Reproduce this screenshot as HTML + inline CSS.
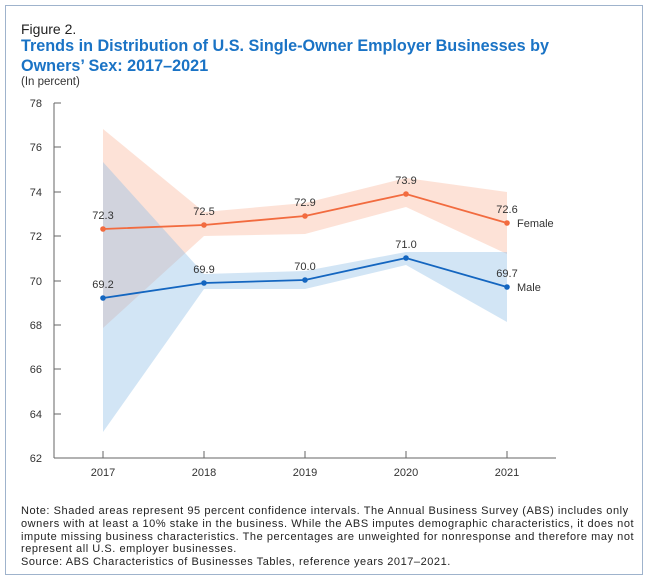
<!DOCTYPE html>
<html><head><meta charset="utf-8"><style>
body{margin:0;background:#fff;font-family:"Liberation Sans",sans-serif;}
.box{position:absolute;left:5px;top:5px;width:636px;height:568px;border:1.5px solid #9fb3cc;}
.t{position:absolute;left:21px;white-space:nowrap;}
</style></head><body>
<div class="box"></div>
<div class="t" style="top:21px;font-size:14px;color:#222">Figure 2.</div>
<div class="t" style="top:36px;font-size:16.2px;font-weight:bold;color:#1a73c5;line-height:20px">Trends in Distribution of U.S. Single-Owner Employer Businesses by<br>Owners’ Sex: 2017–2021</div>
<div class="t" style="top:76px;font-size:11.5px;color:#333">(In percent)</div>
<svg width="650" height="580" style="position:absolute;left:0;top:0" font-family="Liberation Sans, sans-serif">
<g font-size="11" fill="#333" text-anchor="end">
<text x="42" y="107">78</text><text x="42" y="151">76</text><text x="42" y="196">74</text><text x="42" y="240">72</text><text x="42" y="285">70</text><text x="42" y="329">68</text><text x="42" y="373">66</text><text x="42" y="418">64</text><text x="42" y="462">62</text>
</g>
<g stroke="#666" stroke-width="1">
<line x1="54" y1="103" x2="54" y2="458"/><line x1="54" y1="458" x2="556" y2="458"/>
<line x1="54" y1="103" x2="61" y2="103"/><line x1="54" y1="147" x2="61" y2="147"/><line x1="54" y1="192" x2="61" y2="192"/><line x1="54" y1="236" x2="61" y2="236"/><line x1="54" y1="281" x2="61" y2="281"/><line x1="54" y1="325" x2="61" y2="325"/><line x1="54" y1="369" x2="61" y2="369"/><line x1="54" y1="414" x2="61" y2="414"/>
<line x1="103" y1="458" x2="103" y2="451"/><line x1="204" y1="458" x2="204" y2="451"/><line x1="305" y1="458" x2="305" y2="451"/><line x1="406" y1="458" x2="406" y2="451"/><line x1="507" y1="458" x2="507" y2="451"/>
</g>
<g font-size="11" fill="#333" text-anchor="middle">
<text x="103" y="476">2017</text><text x="204" y="476">2018</text><text x="305" y="476">2019</text><text x="406" y="476">2020</text><text x="507" y="476">2021</text>
</g>
<polygon fill="#f9b79b" fill-opacity="0.4" points="103,129 204,212 305,203 406,178 507,192 507,254 406,207 305,234 204,236 103,328"/>
<polygon fill="#8fbfe6" fill-opacity="0.4" points="103,162 204,274 305,271 406,252 507,252 507,322 406,265 305,289 204,289 103,432"/>
<polyline fill="none" stroke="#f26b3f" stroke-width="1.8" points="103,229 204,225 305,216 406,194 507,223"/>
<polyline fill="none" stroke="#1466c0" stroke-width="1.8" points="103,298 204,283 305,280 406,258 507,287"/>
<g fill="#f26b3f"><circle cx="103" cy="229" r="2.8"/><circle cx="204" cy="225" r="2.8"/><circle cx="305" cy="216" r="2.8"/><circle cx="406" cy="194" r="2.8"/><circle cx="507" cy="223" r="2.8"/></g>
<g fill="#1466c0"><circle cx="103" cy="298" r="2.8"/><circle cx="204" cy="283" r="2.8"/><circle cx="305" cy="280" r="2.8"/><circle cx="406" cy="258" r="2.8"/><circle cx="507" cy="287" r="2.8"/></g>
<g font-size="11" fill="#333" text-anchor="middle">
<text x="103" y="219">72.3</text><text x="204" y="215">72.5</text><text x="305" y="206">72.9</text><text x="406" y="184">73.9</text><text x="507" y="213">72.6</text>
<text x="103" y="288">69.2</text><text x="204" y="273">69.9</text><text x="305" y="270">70.0</text><text x="406" y="248">71.0</text><text x="507" y="277">69.7</text>
</g>
<g font-size="11" fill="#333"><text x="517" y="227">Female</text><text x="517" y="291">Male</text></g>
</svg>
<div class="t" style="top:505px;font-size:11px;letter-spacing:0.55px;line-height:12.8px;color:#222">Note: Shaded areas represent 95 percent confidence intervals. The Annual Business Survey (ABS) includes only<br>owners with at least a 10% stake in the business. While the ABS imputes demographic characteristics, it does not<br>impute missing business characteristics. The percentages are unweighted for nonresponse and therefore may not<br>represent all U.S. employer businesses.<br>Source: ABS Characteristics of Businesses Tables, reference years 2017–2021.</div>
</body></html>
